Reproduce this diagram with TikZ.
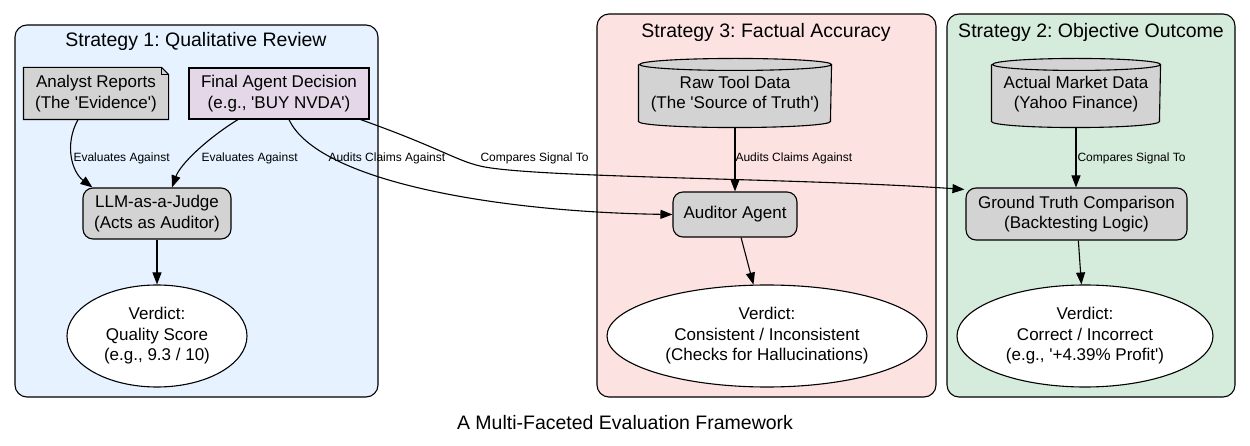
\documentclass[tikz,border=0pt]{standalone}
\usepackage{fontspec}
\defaultfontfeatures{Ligatures=TeXOff}
\setmainfont{Liberation Sans}[Ligatures=TeXOff]
\usetikzlibrary{shapes.geometric,arrows.meta,calc}
\definecolor{cOne}{HTML}{E6F2FF}
\definecolor{cThree}{HTML}{FDE2E2}
\definecolor{cTwo}{HTML}{D5EBDB}
\definecolor{gr}{HTML}{D3D3D3}
\definecolor{lav}{HTML}{E4D7E8}
\frenchspacing
\newcommand\sq{\textquotesingle}
\newcommand\drawcyl[2]{%
  \fill[gr] ($(#1.north west)+(0,6)$) -- ($(#1.south west)+(0,-6)$)
     arc[start angle=180,end angle=360,x radius=#2pt,y radius=6pt]
     -- ($(#1.north east)+(0,6)$)
     arc[start angle=0,end angle=180,x radius=#2pt,y radius=6pt] -- cycle;
  \draw ($(#1.north west)+(0,6)$) -- ($(#1.south west)+(0,-6)$)
     arc[start angle=180,end angle=360,x radius=#2pt,y radius=6pt]
     -- ($(#1.north east)+(0,6)$)
     arc[start angle=0,end angle=180,x radius=#2pt,y radius=6pt]
     arc[start angle=180,end angle=360,x radius=#2pt,y radius=6pt];
}
\begin{document}
\begin{tikzpicture}[x=1pt,y=-1pt,line width=1.1pt,
  >={Triangle[length=12pt,width=9pt]},
  cluster/.style={draw=black,rounded corners=12pt,inner sep=0pt},
  ttl/.style={font=\fontsize{19.5}{23}\selectfont,inner sep=0pt},
  box/.style={align=center,font=\fontsize{17}{20.5}\selectfont,inner sep=0pt},
  rbox/.style={box,draw,rounded corners=10pt,fill=gr},
  verd/.style={box,ellipse,draw,fill=white},
  lbl/.style={font=\fontsize{12}{14}\selectfont,inner sep=0pt,anchor=west},
  edge/.style={->,line width=1.1pt}]
\useasboundingbox (0,0) rectangle (1250,446);
\fill[white] (0,0) rectangle (1250,446);
% clusters
\node[cluster,fill=cOne,minimum width=363pt,minimum height=372pt] (c1) at (196.5,211) {};
\node[cluster,fill=cThree,minimum width=339pt,minimum height=383pt] (c3) at (766.5,205.5) {};
\node[cluster,fill=cTwo,minimum width=288pt,minimum height=383pt] (c2) at (1091,205.5) {};
\node[ttl] (t1) at (196,41) {Strategy 1: Qualitative Review};
\node[ttl] (t3) at (766,32) {Strategy 3: Factual Accuracy};
\node[ttl] (t2) at (1091,32) {Strategy 2: Objective Outcome};
% strategy 1
\node[box,minimum width=144pt,minimum height=51pt] (an) at (96,93.5) {};
\filldraw[fill=gr] (an.north west) -- ($(an.north east)+(-7,0)$) -- ($(an.north east)+(0,7)$)
   -- (an.south east) -- (an.south west) -- cycle;
\draw[line width=0.8pt] ($(an.north east)+(-7,0)$) -- ($(an.north east)+(-7,7)$) -- ($(an.north east)+(0,7)$);
\node[box] (antxt) at (an.center) {Analyst Reports\\(The \sq Evidence\sq)};
\node[box,draw,fill=lav,minimum width=180pt,minimum height=51pt] (fad) at (279,93.5) {Final Agent Decision\\(e.g., \sq BUY NVDA\sq)};
\node[rbox,minimum width=148pt,minimum height=51pt] (llm) at (157,213.5) {LLM-as-a-Judge\\(Acts as Auditor)};
\node[verd,minimum width=180pt,minimum height=102pt] (v1) at (157,336) {Verdict:\\Quality Score\\(e.g., 9.3 / 10)};
% strategy 3
\node[box,minimum width=192pt,minimum height=68pt] (raw) at (735,93) {};
\drawcyl{raw}{96}
\node[box] (rawtxt) at (735,94) {Raw Tool Data\\(The \sq Source of Truth\sq)};
\node[rbox,minimum width=124pt,minimum height=45pt] (aud) at (735,214.5) {Auditor Agent};
\node[verd,minimum width=320pt,minimum height=102pt] (v3) at (767,336) {Verdict:\\Consistent / Inconsistent\\(Checks for Hallucinations)};
% strategy 2
\node[box,minimum width=168pt,minimum height=68pt] (mkt) at (1076,93) {};
\drawcyl{mkt}{84}
\node[box] (mkttxt) at (1076,94) {Actual Market Data\\(Yahoo Finance)};
\node[rbox,minimum width=221pt,minimum height=52pt] (gt) at (1076.5,214) {Ground Truth Comparison\\(Backtesting Logic)};
\node[verd,minimum width=256pt,minimum height=102pt] (v2) at (1085,336) {Verdict:\\Correct / Incorrect\\(e.g., \sq+4.39\% Profit\sq)};
% edges
\draw[edge] ([xshift=-18pt]an.south) .. controls (64,145) and (72,172) .. ($(llm.north west)+(10,0)$);
\draw[edge] ([xshift=-41pt]fad.south) .. controls (205,140) and (180,165) .. ([xshift=15pt]llm.north);
\draw[edge] ([xshift=10pt]fad.south) .. controls (318,182) and (500,212) .. (aud.west);
\draw[edge] ([xshift=-9pt]fad.south east) .. controls (440,148) and (455,160) .. (480,166)
   .. controls (530,178) and (800,178) .. ($(gt.north west)+(-1,2)$);
\draw[edge] (raw.south) -- (aud.north);
\draw[edge] (mkt.south) -- ([xshift=-0.5pt]gt.north);
\draw[edge] (llm.south) -- (v1.north);
\draw[edge] (aud) -- (v3);
\draw[edge] (gt) -- (v2);
% labels
\node[lbl] (l1) at (73,158) {Evaluates Against};
\node[lbl] (l2) at (201,158) {Evaluates Against};
\node[lbl] (l3) at (328,158) {Audits Claims Against};
\node[lbl] (l4) at (480,158) {Compares Signal To};
\node[lbl] (l5) at (735,158) {Audits Claims Against};
\node[lbl] (l6) at (1077,158) {Compares Signal To};
\node[ttl] (cap) at (625,423) {A Multi-Faceted Evaluation Framework};
\end{tikzpicture}
\end{document}
